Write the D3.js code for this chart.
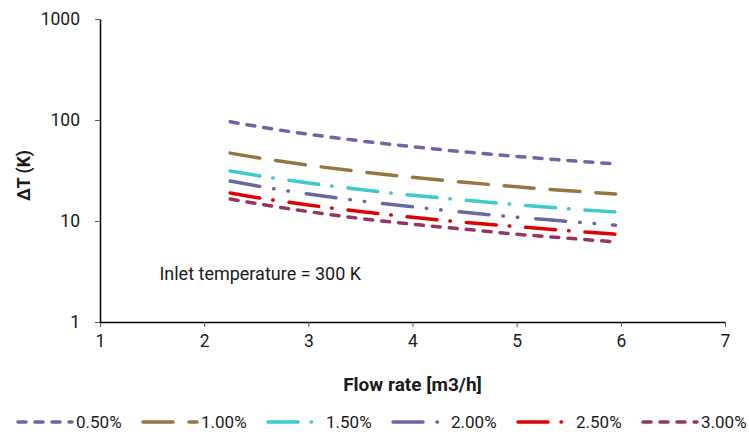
<!DOCTYPE html>
<html>
<head>
<meta charset="utf-8">
<script src="https://cdn.jsdelivr.net/npm/d3@7"></script>
<style>
  body { margin: 0; background: #fff; }
  svg text { font-family: Roboto, "Open Sans", sans-serif; fill: #1a1a1a; }
</style>
</head>
<body>
<div id="chartContainer"></div>
<script>
// Data
const flowRate = [2.25, 2.5, 3, 3.5, 4, 4.5, 5, 5.5, 5.95];
const dt050 = [96, 86.6, 72.3, 62.1, 54.4, 48.4, 43.6, 39.7, 36.8];
const dt100 = [47, 42.5, 35.7, 30.8, 27.1, 24.2, 21.8, 19.9, 18.5];
const dt150 = [31.3, 28.3, 23.8, 20.5, 18.0, 16.1, 14.5, 13.2, 12.3];
const dt200 = [24.9, 22.3, 18.5, 15.8, 13.8, 12.2, 10.9, 9.9, 9.1];
const dt250 = [18.9, 17.1, 14.4, 12.4, 10.9, 9.7, 8.8, 8.0, 7.4];
const dt300 = [16.5, 14.9, 12.4, 10.6, 9.3, 8.3, 7.4, 6.75, 6.2];
const seriesNames = ["0.50%", "1.00%", "1.50%", "2.00%", "2.50%", "3.00%"];
const xTicks = [1, 2, 3, 4, 5, 6, 7];
const yTicks = [1, 10, 100, 1000];

const series = [
  { name: seriesNames[0], values: dt050, color: "#6b67a0", dash: "8,9" },
  { name: seriesNames[1], values: dt100, color: "#957541", dash: "30,16" },
  { name: seriesNames[2], values: dt150, color: "#3ccaca", dash: "30,13,0.5,16" },
  { name: seriesNames[3], values: dt200, color: "#6b68a0", dash: "30,14,0.5,14,0.5,18" },
  { name: seriesNames[4], values: dt250, color: "#e00000", dash: "30,13,0.5,16" },
  { name: seriesNames[5], values: dt300, color: "#943566", dash: "8,9" }
];

const W = 749, H = 434;
const margin = { top: 19, right: 24, bottom: 112, left: 100 };
const width = W - margin.left - margin.right;
const height = H - margin.top - margin.bottom;

const svg = d3.select("#chartContainer")
  .append("svg")
  .attr("width", W)
  .attr("height", H);

const g = svg.append("g")
  .attr("transform", `translate(${margin.left}, ${margin.top})`);

const xScale = d3.scaleLinear().domain([1, 7]).range([0, width]);
const yScale = d3.scaleLog().domain([1, 1000]).range([height, 0]);

// x axis
const xAxis = g.append("g")
  .attr("transform", `translate(0, ${height})`)
  .call(d3.axisBottom(xScale).tickValues(xTicks).tickFormat(d3.format("d")).tickSize(5).tickSizeOuter(0));
xAxis.select(".domain").attr("stroke", "#000").attr("stroke-width", 1.5);
xAxis.selectAll(".tick line").attr("stroke", "#555");
xAxis.selectAll(".tick text").attr("font-size", "17.5px").attr("y", 13)
  .style("font-family", "Roboto, 'Open Sans', sans-serif").attr("fill", "#1a1a1a");

// y axis
const yAxis = g.append("g")
  .call(d3.axisLeft(yScale).tickValues(yTicks).tickFormat(d3.format("d")).tickSize(5).tickSizeOuter(0));
yAxis.select(".domain").attr("stroke", "#000").attr("stroke-width", 1.5);
yAxis.selectAll(".tick line").attr("stroke", "#555");
yAxis.selectAll(".tick text").attr("font-size", "17.5px").attr("x", -20)
  .style("font-family", "Roboto, 'Open Sans', sans-serif").attr("fill", "#1a1a1a");

// axis titles
g.append("text")
  .attr("x", xScale(4))
  .attr("y", height + 69)
  .attr("text-anchor", "middle")
  .attr("font-size", "19px")
  .attr("font-weight", "bold")
  .text("Flow rate [m3/h]");

g.append("text")
  .attr("transform", `translate(${-70}, ${height / 2 + 5}) rotate(-90)`)
  .attr("text-anchor", "middle")
  .attr("font-size", "17.5px")
  .attr("font-weight", "bold")
  .text("ΔT (K)");

// lines
const line = d3.line()
  .x((d, i) => xScale(flowRate[i]))
  .y(d => yScale(d))
  .curve(d3.curveMonotoneX);

g.selectAll(".series")
  .data(series)
  .enter()
  .append("path")
  .attr("class", "series")
  .attr("d", d => line(d.values))
  .attr("fill", "none")
  .attr("stroke", d => d.color)
  .attr("stroke-width", 3.5)
  .attr("stroke-linecap", "round")
  .attr("stroke-dasharray", d => d.dash);

// annotation
g.append("text")
  .attr("x", xScale(1.57))
  .attr("y", yScale(2.6))
  .attr("font-size", "18px")
  .text("Inlet temperature = 300 K");

// legend
const legend = svg.append("g").attr("transform", "translate(16, 422)");
const item = legend.selectAll(".item")
  .data(series)
  .enter()
  .append("g")
  .attr("class", "item")
  .attr("transform", (d, i) => `translate(${i * 125}, 0)`);

item.append("line")
  .attr("x1", 2).attr("x2", 56)
  .attr("y1", 0).attr("y2", 0)
  .attr("stroke", d => d.color)
  .attr("stroke-width", 3.5)
  .attr("stroke-linecap", "round")
  .attr("stroke-dasharray", d => d.dash);

item.append("text")
  .attr("x", 60)
  .attr("y", 6)
  .attr("font-size", "17px")
  .text(d => d.name);
</script>
</body>
</html>
